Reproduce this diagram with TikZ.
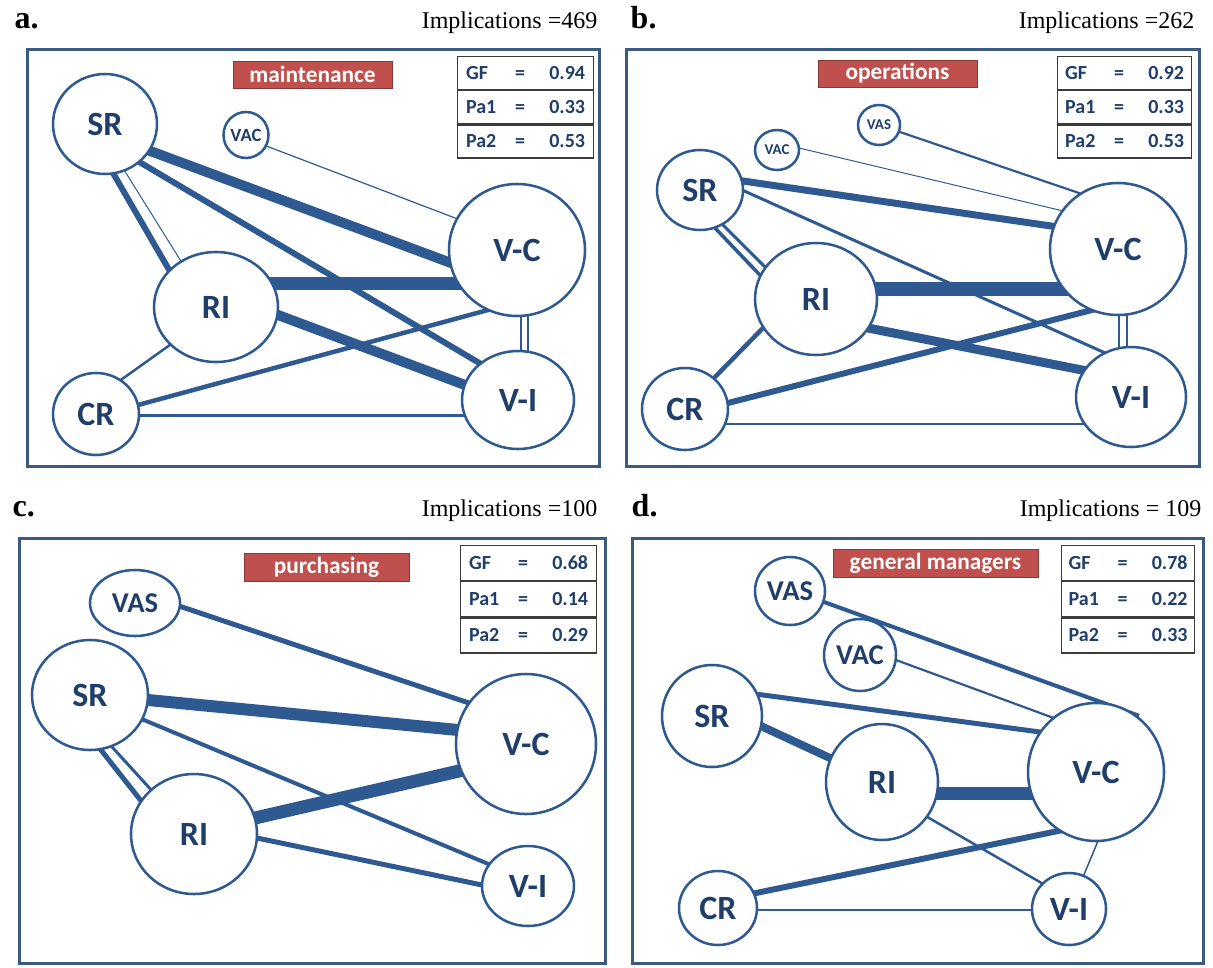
\documentclass[tikz,border=0pt]{standalone}
\usepackage{fontspec}
\setmainfont{Liberation Serif}
\newfontfamily\labfont{Carlito}
\usetikzlibrary{shapes.geometric,backgrounds}
\definecolor{lineblue}{RGB}{47,90,145}
\definecolor{textblue}{RGB}{31,62,105}
\definecolor{framecol}{RGB}{58,90,130}
\definecolor{tagred}{RGB}{192,80,77}
\definecolor{tabgray}{RGB}{60,60,60}

% one row of the fit table: name, "=", value
\newcommand\strow[2]{\makebox[30pt][l]{#1}\makebox[21pt][c]{=}\makebox[38.25pt][r]{#2}}

\tikzset{
  nd/.style 2 args={ellipse, draw=lineblue, line width=1.9pt, fill=white, inner sep=0pt,
    minimum width={#1*1.5pt}, minimum height={#2*1.5pt}, text=textblue},
  lbig/.style={font=\labfont\bfseries\fontsize{25.5}{27}\selectfont},
  lmid/.style={font=\labfont\bfseries\fontsize{21.5}{23}\selectfont},
  lsmall/.style={font=\labfont\bfseries\fontsize{14}{15}\selectfont},
  ltiny/.style={font=\labfont\bfseries\fontsize{11.25}{12}\selectfont},
  ln/.style={draw=lineblue, line width={#1*0.75pt}, shorten <=-4pt, shorten >=-4pt},
  panelframe/.style={draw=framecol, line width=2.25pt},
  tagbox/.style 2 args={fill=tagred, draw=tagred!70!black, line width=0.6pt,
    minimum width={#1*0.75pt}, minimum height={#2*0.75pt}, inner sep=0pt, text=white,
    font=\labfont\bfseries\fontsize{17.5}{18}\selectfont},
  trow/.style 2 args={draw=tabgray, line width=0.9pt, minimum width={#1*0.75pt},
    minimum height={#2*0.75pt}, inner sep=0pt, anchor=north west, text=textblue,
    font=\labfont\bfseries\fontsize{15}{16}\selectfont},
  plab/.style={anchor=base west, font=\bfseries\fontsize{24}{26}\selectfont},
  imp/.style={anchor=base east, font=\fontsize{18}{20}\selectfont},
}

\begin{document}
\begin{tikzpicture}[x=0.75pt,y=-0.75pt]
\useasboundingbox (0,0) rectangle (1213,967);

% ---------------- panel a: maintenance ----------------
\node[plab] (la) at (10,28) {a.};
\node[imp] (ia) at (602,28) {Implications =469};
\draw[panelframe] (27,49) rectangle (599,466);
\node[tagbox={159}{27}] (ta) at (312.5,74.5) {maintenance};
\node[trow={136}{33}] (aT1) at (457,56) {\strow{GF}{0.94}};
\node[trow={136}{33}] (aT2) at (aT1.south west) {\strow{Pa1}{0.33}};
\node[trow={136}{33}] (aT3) at (aT2.south west) {\strow{Pa2}{0.53}};

\node[nd={52}{50}, lbig] (aSR) at (105,124) {SR};
\node[nd={22.5}{23}, lsmall] (aVAC) at (246,135) {VAC};
\node[nd={68}{66}, lbig] (aVC) at (517,250) {V-C};
\node[nd={62}{55}, lbig] (aRI) at (216,307) {RI};
\node[nd={43}{41}, lbig] (aCR) at (96,414) {CR};
\node[nd={56}{49}, lbig] (aVI) at (518,400) {V-I};

\begin{pgfonlayer}{background}
\draw[ln=10] ([shift={(48,28)}]aSR.center) -- ([shift={(-66,13)}]aVC.center);
\draw[ln=6] ([shift={(36,39)}]aSR.center) -- ([shift={(-37,-36)}]aVI.center);
\draw[ln=6] ([shift={(8,49)}]aSR.center) -- ([shift={(-48,-39)}]aRI.center);
\draw[ln=1] ([shift={(21,49)}]aSR.center) -- ([shift={(-37,-49)}]aRI.center);
\draw[ln=1.2] ([shift={(23,12)}]aVAC.center) -- ([shift={(-62,-32)}]aVC.center);
\draw[ln=13] ([shift={(56,-24)}]aRI.center) -- ([shift={(-58,33)}]aVC.center);
\draw[ln=10] ([shift={(62,8)}]aRI.center) -- ([shift={(-53,-15)}]aVI.center);
\draw[ln=2.5] ([shift={(29,-37)}]aCR.center) -- ([shift={(-49,40)}]aRI.center);
\draw[ln=4.5] ([shift={(42,-9)}]aCR.center) -- ([shift={(-29,60)}]aVC.center);
\draw[ln=3] ([shift={(43,1)}]aCR.center) -- ([shift={(-56,15)}]aVI.center);
\draw[ln=2] ([shift={(4,66)}]aVC.center) -- ([shift={(3,-50)}]aVI.center);
\draw[ln=2] ([shift={(11,66)}]aVC.center) -- ([shift={(10,-50)}]aVI.center);
\end{pgfonlayer}

% ---------------- panel b: operations ----------------
\node[plab] (lb) at (626,28) {b.};
\node[imp] (ib) at (1199,28) {Implications =262};
\draw[panelframe] (626,49) rectangle (1199,466);
\node[tagbox={159}{27}] (tb) at (897.5,73.5) {operations};
\node[trow={134}{33}] (bT1) at (1057,56) {\strow{GF}{0.92}};
\node[trow={134}{33}] (bT2) at (bT1.south west) {\strow{Pa1}{0.33}};
\node[trow={134}{33}] (bT3) at (bT2.south west) {\strow{Pa2}{0.53}};

\node[nd={21}{20}, ltiny] (bVAS) at (879,125) {VAS};
\node[nd={22}{20}, ltiny] (bVAC) at (777,150) {VAC};
\node[nd={43}{40}, lbig] (bSR) at (700,190) {SR};
\node[nd={68}{66}, lbig] (bVC) at (1118,249) {V-C};
\node[nd={61}{56}, lbig] (bRI) at (816,299) {RI};
\node[nd={43}{41}, lbig] (bCR) at (685,409) {CR};
\node[nd={55}{50}, lbig] (bVI) at (1131,397) {V-I};

\begin{pgfonlayer}{background}
\draw[ln=2.2] ([shift={(21,7)}]bVAS.center) -- ([shift={(-42,-57)}]bVC.center);
\draw[ln=1] ([shift={(22,-2)}]bVAC.center) -- ([shift={(-59,-39)}]bVC.center);
\draw[ln=7] ([shift={(43,-9)}]bSR.center) -- ([shift={(-67,-23)}]bVC.center);
\draw[ln=3] ([shift={(42,0)}]bSR.center) -- ([shift={(-28,-45)}]bVI.center);
\draw[ln=3.5] ([shift={(15,38)}]bSR.center) -- ([shift={(-59,-27)}]bRI.center);
\draw[ln=3] ([shift={(24,36)}]bSR.center) -- ([shift={(-50,-31)}]bRI.center);
\draw[ln=14] ([shift={(61,-10)}]bRI.center) -- ([shift={(-51,40)}]bVC.center);
\draw[ln=9] ([shift={(57,30)}]bRI.center) -- ([shift={(-49,-27)}]bVI.center);
\draw[ln=4.5] ([shift={(30,-32)}]bCR.center) -- ([shift={(-53,29)}]bRI.center);
\draw[ln=6] ([shift={(43,-6)}]bCR.center) -- ([shift={(-26,61)}]bVC.center);
\draw[ln=2.5] ([shift={(43,15)}]bCR.center) -- ([shift={(-49,27)}]bVI.center);
\draw[ln=2] ([shift={(1,66)}]bVC.center) -- ([shift={(-12,-50)}]bVI.center);
\draw[ln=2] ([shift={(9,66)}]bVC.center) -- ([shift={(-4,-50)}]bVI.center);
\end{pgfonlayer}

% ---------------- panel c: purchasing ----------------
\node[plab] (lc) at (8,516) {c.};
\node[imp] (ic) at (602,516) {Implications =100};
\draw[panelframe] (19.5,538) rectangle (605,963);
\node[tagbox={165}{28}] (tc) at (326.5,567) {purchasing};
\node[trow={136}{35}] (cT1) at (460,545) {\strow{GF}{0.68}};
\node[trow={136}{35}] (cT2) at (cT1.south west) {\strow{Pa1}{0.14}};
\node[trow={136}{35}] (cT3) at (cT2.south west) {\strow{Pa2}{0.29}};

\node[nd={45}{33}, lmid] (cVAS) at (135,603) {VAS};
\node[nd={58}{55}, lbig] (cSR) at (90,695) {SR};
\node[nd={70}{70}, lbig] (cVC) at (526,744) {V-C};
\node[nd={63}{60}, lbig] (cRI) at (194,834) {RI};
\node[nd={46}{40}, lbig] (cVI) at (528,886) {V-I};

\begin{pgfonlayer}{background}
\draw[ln=5] ([shift={(44,3)}]cVAS.center) -- ([shift={(-57,-41)}]cVC.center);
\draw[ln=12] ([shift={(58,5)}]cSR.center) -- ([shift={(-68,-14)}]cVC.center);
\draw[ln=4] ([shift={(54,25)}]cSR.center) -- ([shift={(-42,-23)}]cVI.center);
\draw[ln=5] ([shift={(11,55)}]cSR.center) -- ([shift={(-52,-32)}]cRI.center);
\draw[ln=3] ([shift={(23,53)}]cSR.center) -- ([shift={(-40,-41)}]cRI.center);
\draw[ln=13] ([shift={(61,-16)}]cRI.center) -- ([shift={(-67,27)}]cVC.center);
\draw[ln=5] ([shift={(63,4)}]cRI.center) -- ([shift={(-46,-1)}]cVI.center);
\end{pgfonlayer}

% ---------------- panel d: general managers ----------------
\node[plab] (ld) at (627,516) {d.};
\node[imp] (id) at (1206,516) {Implications = 109};
\draw[panelframe] (632,538) rectangle (1203,963);
\node[tagbox={205}{28}] (td) at (935.5,563) {general managers};
\node[trow={133}{35}] (dT1) at (1061,545) {\strow{GF}{0.78}};
\node[trow={133}{35}] (dT2) at (dT1.south west) {\strow{Pa1}{0.22}};
\node[trow={133}{35}] (dT3) at (dT2.south west) {\strow{Pa2}{0.33}};

\node[nd={35}{34}, lmid] (dVAS) at (790,591) {VAS};
\node[nd={36}{36}, lmid] (dVAC) at (860,655) {VAC};
\node[nd={50}{51}, lbig] (dSR) at (712,716) {SR};
\node[nd={56}{58}, lbig] (dRI) at (882,782) {RI};
\node[nd={68}{69}, lbig] (dVC) at (1096,772) {V-C};
\node[nd={39}{37}, lbig] (dCR) at (718,908) {CR};
\node[nd={37}{36}, lbig] (dVI) at (1069,909) {V-I};

\begin{pgfonlayer}{background}
\draw[ln=4] ([shift={(34,11)}]dVAS.center) -- ([shift={(38,-58)}]dVC.center);
\draw[ln=2.2] ([shift={(36,5)}]dVAC.center) -- ([shift={(-45,-55)}]dVC.center);
\draw[ln=5] ([shift={(51,-21)}]dSR.center) -- ([shift={(-56,-40)}]dVC.center);
\draw[ln=8] ([shift={(51,11)}]dSR.center) -- ([shift={(-52,-24)}]dRI.center);
\draw[ln=13] ([shift={(56,11)}]dRI.center) -- ([shift={(-64,21)}]dVC.center);
\draw[ln=2.5] ([shift={(47,36)}]dRI.center) -- ([shift={(-24,-24)}]dVI.center);
\draw[ln=6] ([shift={(38,-15)}]dCR.center) -- ([shift={(-33,58)}]dVC.center);
\draw[ln=2] ([shift={(39,2)}]dCR.center) -- ([shift={(-37,1)}]dVI.center);
\draw[ln=1.5] ([shift={(2,69)}]dVC.center) -- ([shift={(14,-32)}]dVI.center);
\end{pgfonlayer}

\end{tikzpicture}
\end{document}
